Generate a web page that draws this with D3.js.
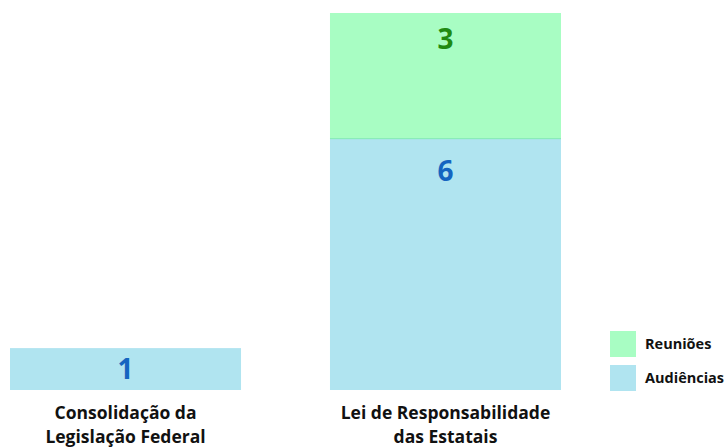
<!DOCTYPE html>
<html>
<head>
<meta charset="utf-8">
<script src="https://cdn.jsdelivr.net/npm/d3@7"></script>
<style>
  body { margin: 0; background: #fff; }
  text { font-family: "Open Sans", sans-serif; font-weight: 700; }
</style>
</head>
<body>
<div id="chart"></div>
<script>
const categories = ["Consolidação da\nLegislação Federal", "Lei de Responsabilidade\ndas Estatais"];
const audiencias = [1, 6];
const reunioes = [0, 3];
const seriesNames = ["Audiências", "Reuniões"];

const width = 728, height = 448;
const margin = {top: 13, right: 167, bottom: 58, left: 10};

const svg = d3.select("#chart")
    .append("svg")
    .attr("width", width)
    .attr("height", height);

const g = svg.append("g")
    .attr("transform", `translate(${margin.left},${margin.top})`);

const innerW = width - margin.left - margin.right;
const innerH = height - margin.top - margin.bottom;

const xScale = d3.scaleBand()
    .domain(categories)
    .range([0, innerW])
    .paddingInner(0.278)
    .paddingOuter(0);

const totals = categories.map((c, i) => audiencias[i] + reunioes[i]);
const yScale = d3.scaleLinear()
    .domain([0, d3.max(totals)])
    .range([innerH, 0]);

const table = categories.map((c, i) => ({cat: c, "Audiências": audiencias[i], "Reuniões": reunioes[i]}));
const stacked = d3.stack().keys(seriesNames)(table);

const fills = {"Audiências": "#b0e4f0", "Reuniões": "#a8fdc3"};
const textColors = {"Audiências": "#1565c0", "Reuniões": "#1f8a12"};

stacked.forEach(layer => {
    const key = layer.key;
    const segs = layer.filter(d => d[1] - d[0] > 0);

    g.selectAll(".bar-" + key)
        .data(segs)
        .join("rect")
        .attr("x", d => xScale(d.data.cat))
        .attr("width", xScale.bandwidth())
        .attr("y", d => yScale(d[1]))
        .attr("height", d => yScale(d[0]) - yScale(d[1]))
        .attr("fill", fills[key]);

    // value labels
    g.selectAll(".lbl-" + key)
        .data(segs)
        .join("text")
        .attr("x", d => xScale(d.data.cat) + xScale.bandwidth() / 2)
        .attr("y", d => {
            const h = yScale(d[0]) - yScale(d[1]);
            return yScale(d[1]) + Math.min(h / 2, 20 + h * 0.05);
        })
        .attr("dy", "0.36em")
        .attr("text-anchor", "middle")
        .attr("font-size", 28)
        .attr("fill", textColors[key])
        .text(d => d[1] - d[0]);
});

// thin boundary between segments
g.selectAll(".sep")
    .data(stacked[1].filter(d => d[1] - d[0] > 0))
    .join("line")
    .attr("x1", d => xScale(d.data.cat))
    .attr("x2", d => xScale(d.data.cat) + xScale.bandwidth())
    .attr("y1", d => yScale(d[0]))
    .attr("y2", d => yScale(d[0]))
    .attr("stroke", "#80e8b4")
    .attr("stroke-width", 1);

// category labels
const catLabels = g.selectAll(".cat")
    .data(categories)
    .join("text")
    .attr("x", d => xScale(d) + xScale.bandwidth() / 2)
    .attr("y", innerH + 29)
    .attr("text-anchor", "middle")
    .attr("font-size", 17.5)
    .attr("fill", "#111");

catLabels.selectAll("tspan")
    .data(d => d.split("\n"))
    .join("tspan")
    .attr("x", function() { return d3.select(this.parentNode).attr("x"); })
    .attr("dy", (d, i) => i === 0 ? 0 : 24)
    .text(d => d);

// legend
const legendNames = ["Reuniões", "Audiências"];
const legend = svg.append("g")
    .attr("transform", "translate(610,331)");

const li = legend.selectAll("g")
    .data(legendNames)
    .join("g")
    .attr("transform", (d, i) => `translate(0,${i * 34})`);

li.append("rect")
    .attr("width", 26)
    .attr("height", 26)
    .attr("fill", d => fills[d]);

li.append("text")
    .attr("x", 35)
    .attr("y", 13)
    .attr("dy", "0.35em")
    .attr("font-size", 14.5)
    .attr("fill", "#111")
    .text(d => d);
</script>
</body>
</html>
